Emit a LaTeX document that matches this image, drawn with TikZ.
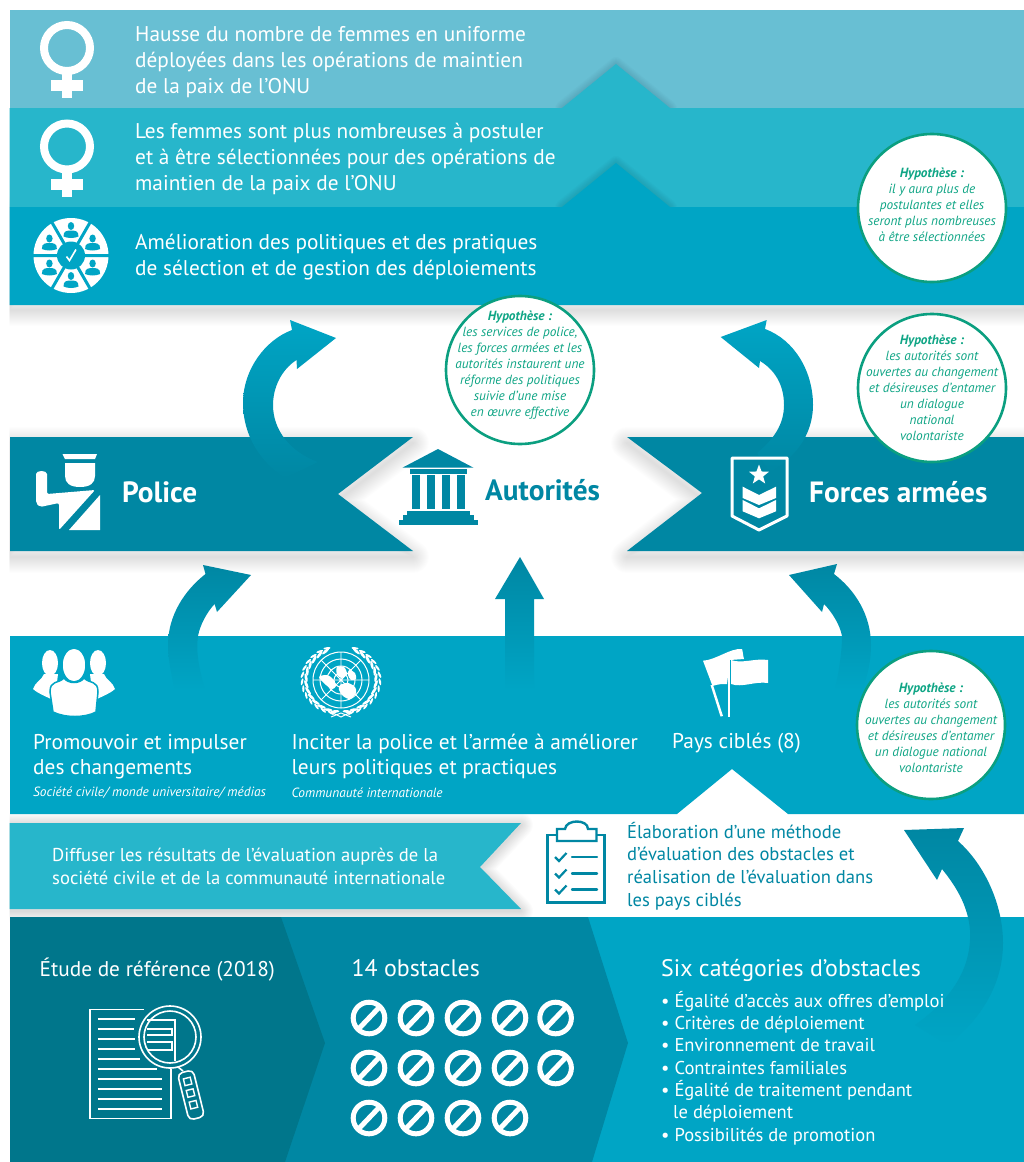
\documentclass[tikz,border=0pt]{standalone}
\usepackage{fontspec}
\setmainfont{PT Sans}
\usetikzlibrary{shapes.geometric,calc}
\definecolor{bandA}{HTML}{68BFD3}
\definecolor{bandB}{HTML}{27B6CB}
\definecolor{bandC}{HTML}{00A5C5}
\definecolor{bandD}{HTML}{0087A3}
\definecolor{bandE}{HTML}{00768B}
\definecolor{hypo}{HTML}{0FA585}
\definecolor{hypoline}{HTML}{0B9F80}
\newcommand\softshadow[4]{%
 \foreach \w in {2,4,...,#2}{\path[draw=black,draw opacity=#3,line width=\w pt,line join=round,shift={(0,#4)}] #1;}}
\newcommand\venus[2]{%
 \begin{scope}[shift={(#1,#2)}]
 \draw[white,line width=8pt] (0,0) circle (23);
 \fill[white] (-5,26) rectangle (5,50);
 \fill[white] (-16,32) rectangle (16,43);
 \end{scope}}
\newcommand\person[2]{% x y
 \begin{scope}[shift={(#1,#2)}]
 \fill[bandC] (0,-4.5) ellipse (3.2 and 4);
 \fill[bandC] (-7.5,6) .. controls (-8,0) and (-3,0) .. (0,0) .. controls (3,0) and (8,0) .. (7.5,6) .. controls (3,8) and (-3,8) .. (-7.5,6) -- cycle;
 \end{scope}}
\newcommand\nosign[2]{%
 \draw[white,line width=5pt] (#1,#2) circle (15.8);
 \draw[white,line width=5pt] ($(#1,#2)+(-10.5,11)$) -- ($(#1,#2)+(10.5,-11)$);}
\tikzset{
 x=1pt,y=-1pt,
 txt/.style={text=white,inner sep=0pt,align=left,anchor=west},
 bubble/.style={circle,draw=hypoline,line width=2.6pt,fill=white,minimum size=148pt,inner sep=0pt},
 bubtxt/.style={text=hypo,inner sep=0pt,align=center,font=\fontsize{13.3}{16}\selectfont\itshape},
 sweep/.style={top color=bandC,bottom color=bandD},
 rise/.style={top color=bandD,middle color=bandD,bottom color=bandC},
}
\begin{document}
\begin{tikzpicture}
\useasboundingbox (0,0) rectangle (1024,1162);
\fill[white] (0,0) rectangle (1024,1162);
% ---------- shadows
\begin{scope}
\clip (9.5,0) rectangle (1024,1162);
\softshadow{(9.5,207) rectangle (1024,305)}{32}{0.008}{5}
\softshadow{(10,437) -- (413,437) -- (338,494) -- (413,551) -- (10,551) -- cycle}{32}{0.008}{6}
\softshadow{(1024,437) -- (627,437) -- (702,493) -- (627,551) -- (1024,551) -- cycle}{32}{0.008}{6}
\softshadow{(9.5,823) -- (521,823) -- (480,867) -- (521,909) -- (9.5,909) -- cycle}{24}{0.012}{2}
\end{scope}
% ---------- top bands
\fill[bandA] (9.5,10) rectangle (1024,108);
\softshadow{(562,108) -- (616,64) -- (670,108) -- cycle}{14}{0.01}{0}
\fill[bandB] (9.5,108) -- (562,108) -- (616,64) -- (670,108) -- (1024,108) -- (1024,207) -- (9.5,207) -- cycle;
\begin{scope}
\clip (9.5,108) rectangle (1024,207);
\softshadow{(562,207) -- (616,163) -- (670,207) -- cycle}{14}{0.01}{0}
\end{scope}
\fill[bandC] (9.5,207) -- (562,207) -- (616,163) -- (670,207) -- (1024,207) -- (1024,305) -- (9.5,305) -- cycle;
% ---------- ribbons
\fill[bandD] (10,437) -- (413,437) -- (338,494) -- (413,551) -- (10,551) -- cycle;
\fill[bandD] (1024,437) -- (627,437) -- (702,493) -- (627,551) -- (1024,551) -- cycle;
% ---------- lower panel
\fill[bandC] (10,636) -- (1024,636) -- (1024,814) -- (788,814) -- (732,769) -- (677,814) -- (10,814) -- cycle;
\fill[bandB] (9.5,823) -- (521,823) -- (480,867) -- (521,909) -- (9.5,909) -- cycle;
% ---------- bottom panel
\fill[bandC] (10,917) rectangle (1024,1162);
\fill[bandD] (10,917) -- (588,917) -- (628,1043) -- (592,1162) -- (10,1162) -- cycle;
\fill[bandE] (10,917) -- (281,917) -- (325,1043) -- (285,1162) -- (10,1162) -- cycle;
% ---------- curved arrows
\shade[sweep] (336,338) -- (297,369) -- (296.5,360) .. controls (281,370) and (273,388) .. (273,405) .. controls (273,430) and (290,452) .. (318,462) -- (285,478) .. controls (260,462) and (243,435) .. (243,403) .. controls (243,370) and (265,340) .. (292,330) -- (290,320) -- cycle;
\shade[sweep] (720.7,337) -- (766.7,320) -- (765,329) .. controls (795,340) and (813,372) .. (813,405) .. controls (813,430) and (800,455) .. (770,472) -- (757,453) .. controls (773,440) and (784,425) .. (784,405) .. controls (784,385) and (775,370) .. (760,361) -- (759,368) -- cycle;
\shade[rise] (251,575) -- (203,565) -- (205.5,574) .. controls (185,590) and (168,615) .. (168,645) .. controls (168,655) and (170,670) .. (175,690) -- (205,690) .. controls (198,665) and (196,650) .. (198,636) .. controls (200,625) and (207,612) .. (214.6,604) -- (217,612) -- cycle;
\shade[rise] (520,557) -- (544,599) -- (534,599) -- (534,690) -- (505,690) -- (505,599) -- (495,599) -- cycle;
\shade[rise] (789,575) -- (837,564) -- (834,574) .. controls (855,590) and (871,615) .. (871,645) .. controls (871,660) and (868,675) .. (862,690) -- (835,690) .. controls (840,665) and (842,650) .. (842,636) .. controls (840,625) and (832,612) .. (824,604) -- (822,612) -- cycle;
\shade[rise] (904,830) -- (964,828) -- (958,841) .. controls (985,865) and (1003,905) .. (1003,943) .. controls (1003,985) and (980,1020) .. (948,1045) -- (915,1025) .. controls (950,1000) and (972,970) .. (970,930) .. controls (968,905) and (955,885) .. (942,869) -- (937,880) -- cycle;
% ---------- venus + wheel icons
\venus{67}{48}
\venus{67}{146.5}
\begin{scope}[shift={(71,255.5)}]
 \fill[white] (0,0) circle (37.5);
 \draw[bandC,line width=3pt] (-38,0) -- (38,0) (-19,-33) -- (19,33) (19,-33) -- (-19,33);
 \fill[bandC] (0,0) circle (14);
 \draw[white,line width=1.6pt] (-4.5,1) -- (-1.5,5) -- (5,-6);
 \person{21.6}{12.5}\person{0}{25}\person{-21.6}{12.5}\person{-21.6}{-12.5}\person{0}{-25}\person{21.6}{-12.5}
\end{scope}
% ---------- top texts
\node[txt,font=\fontsize{21.3}{26}\selectfont] (t1) at (135,62.5) {Hausse du nombre de femmes en uniforme\\déployées dans les opérations de maintien\\de la paix de l’ONU};
\node[txt,font=\fontsize{21.3}{26}\selectfont] (t2) at (135,158.5) {Les femmes sont plus nombreuses à postuler\\et à être sélectionnées pour des opérations de\\maintien de la paix de l’ONU};
\node[txt,font=\fontsize{21.3}{26}\selectfont] (t3) at (135,257.5) {Amélioration des politiques et des pratiques\\de sélection et de gestion des déploiements};
% ---------- police icon
\fill[white] (62.5,454) -- (97,454) -- (95,459) -- (65,459) -- cycle;
\fill[white] (65,463) -- (95,463) -- (95,476) .. controls (95,483) and (90,487) .. (80,487) .. controls (70,487) and (65,483) .. (65,476) -- cycle;
\fill[white,rounded corners=2pt] (36,476) .. controls (36,470) and (47,470) .. (47,476) -- (47,494) -- (95,490) -- (59,530) -- (59,503) -- (40,507) -- (36,503) -- cycle;
\fill[white] (100,495) -- (100,530) -- (69,530) -- cycle;
\node[txt,font=\fontsize{29.3}{32}\selectfont\bfseries] (police) at (122,492) {Police};
% ---------- temple
\fill[bandD] (438,449) -- (473.5,467.7) -- (402.4,467.7) -- cycle;
\fill[bandD] (410,469) rectangle (467,473.7);
\foreach \c in {412,427,442,457}{\fill[bandD] (\c,475) rectangle ++(8,34);}
\fill[bandD] (407,510.7) rectangle (470,515.2);
\fill[bandD] (403,515.2) rectangle (474,520);
\fill[bandD] (398.5,520) rectangle (477.5,524.5);
\node[txt,text=bandD,font=\fontsize{29.3}{32}\selectfont\bfseries] (autorites) at (485,490) {Autorités};
% ---------- shield
\draw[white,line width=3pt,line join=round] (732,458) -- (787,458) -- (787,516) -- (759,530) -- (732,516) -- cycle;
\node[star,star points=5,star point ratio=2.4,fill=white,minimum size=21pt,inner sep=0pt] (st) at (759,475) {};
\fill[white] (742.7,486.7) -- (759,495) -- (776,486.7) -- (776,498) -- (759,505) -- (742.7,498) -- cycle;
\fill[white] (742.7,500) -- (759,508.3) -- (776,500) -- (776,511.3) -- (759,518.3) -- (742.7,511.3) -- cycle;
\node[txt,font=\fontsize{29.3}{32}\selectfont\bfseries] (forces) at (809,492) {Forces armées};
% ---------- people icon
\fill[white] (50,663) ellipse (8 and 13);
\fill[white] (44,674) .. controls (42,680) and (35,682) .. (33,689) .. controls (39,694) and (45,696) .. (51,699) -- (56,690) -- (58,674) -- cycle;
\fill[white] (98,663) ellipse (8 and 13);
\fill[white] (104,674) .. controls (106,680) and (113,682) .. (115,689) .. controls (109,694) and (103,696) .. (97,699) -- (92,690) -- (90,674) -- cycle;
\fill[white,draw=bandC,line width=1.5pt] (74,665) ellipse (12 and 17);
\fill[white,draw=bandC,line width=1.5pt] (64,678) .. controls (58,684) and (50,680) .. (50,692) -- (53,712) .. controls (65,718) and (85,718) .. (96,712) -- (98,692) .. controls (98,680) and (90,684) .. (84,678) .. controls (80,684) and (68,684) .. (64,678) -- cycle;
% ---------- UN emblem
\begin{scope}[shift={(341,680)}]
 \draw[white,line width=1pt] (0,0) circle (28) (0,0) circle (21) (0,0) circle (14) (0,0) circle (7);
 \draw[white,line width=.8pt] (-28,0) -- (28,0) (0,-28) -- (0,28) (-20,-20) -- (20,20) (20,-20) -- (-20,20);
 \fill[white] plot[smooth cycle] coordinates {(-22,-3) (-14,-5) (-8,-1) (-5,6) (-9,9) (-15,5)};
 \fill[white] plot[smooth cycle] coordinates {(-1,5) (7,3) (14,7) (15,13) (9,19) (2,16) (-2,10)};
 \fill[white] plot[smooth cycle] coordinates {(-4,-13) (3,-13) (6,-6) (1,-2) (-4,-5)};
 \fill[white] plot[smooth cycle] coordinates {(8,-10) (14,-7) (15,-1) (10,0) (7,-5)};
 \foreach \a in {100,112,...,245}{
  \pgfmathsetmacro\px{35*cos(\a)}\pgfmathsetmacro\py{32*sin(\a)}
  \pgfmathsetmacro\qx{39*cos(\a+5)}\pgfmathsetmacro\qy{34*sin(\a+5)}
  \pgfmathsetmacro\ra{-\a+15}\pgfmathsetmacro\rb{-\a-20}
  \pgfmathsetmacro\rc{\a-15}\pgfmathsetmacro\rd{\a+20}
  \pgfmathsetmacro\mx{-\px}\pgfmathsetmacro\nx{-\qx}
  \fill[white,shift={(\px,\py)},rotate=\ra] (0,0) ellipse (1.4 and 4.6);
  \fill[white,shift={(\mx,\py)},rotate=\rc] (0,0) ellipse (1.4 and 4.6);
  \fill[white,shift={(\qx,\qy)},rotate=\rb] (0,0) ellipse (1.1 and 3.6);
  \fill[white,shift={(\nx,\qy)},rotate=\rd] (0,0) ellipse (1.1 and 3.6);
 }
 \draw[white,line width=1pt] (-10,32) -- (0,37) -- (10,32) (-10,37) -- (0,33) -- (10,37);
\end{scope}
% ---------- flags
\fill[white] (703,660.7) .. controls (716,660) and (730,648) .. (742,649) .. controls (743,652) and (743,656) .. (744,659) -- (730,660) -- (727,684) .. controls (722,684) and (718,684) .. (712.5,686) -- cycle;
\fill[white] (710.5,685) -- (713,685) -- (723,716) -- (720.5,716.5) -- cycle;
\fill[white] (731,660) .. controls (742,664) and (755,658) .. (768,660) -- (768,683) .. controls (755,681) and (742,688) .. (731,684) -- cycle;
\fill[white] (727.5,660) -- (730,660) -- (730,717) -- (727.5,717) -- cycle;
% ---------- lower texts
\node[txt,font=\fontsize{21.35}{25}\selectfont] (t4) at (33,756.5) {Promouvoir et impulser\\des changements};
\node[txt,font=\fontsize{13.35}{14}\selectfont\itshape] (t5) at (33,793) {Société civile/ monde universitaire/ médias};
\node[txt,font=\fontsize{21.35}{25}\selectfont] (t6) at (291.5,756.5) {Inciter la police et l’armée à améliorer\\leurs politiques et practiques};
\node[txt,font=\fontsize{13.35}{14}\selectfont\itshape] (t7) at (291.5,793) {Communauté internationale};
\node[txt,font=\fontsize{21.35}{25}\selectfont] (t8) at (672,743.5) {Pays ciblés (8)};
\node[txt,font=\fontsize{18.6}{23}\selectfont] (t9) at (52,866) {Diffuser les résultats de l’évaluation auprès de la\\société civile et de la communauté internationale};
% ---------- clipboard
\begin{scope}[bandD,line width=2.4pt]
 \draw (556,835) -- (547.5,835) -- (547.5,902.5) -- (604.5,902.5) -- (604.5,835) -- (596,835);
 \draw (557,829) -- (565,829) .. controls (566,819) and (588,819) .. (588,829) -- (596.5,829) -- (596.5,841) -- (557,841) -- cycle;
 \foreach \y in {857,873.5,889.5}{
  \draw[line width=2.2pt] (555,\y) -- ++(4,4) -- ++(7.5,-8);
  \draw[line cap=round] (572,\y) -- (597,\y);
 }
\end{scope}
\node[txt,text=bandD,font=\fontsize{18.6}{22.7}\selectfont] (t10) at (627,866) {Élaboration d’une méthode\\d’évaluation des obstacles et\\réalisation de l’évaluation dans\\les pays ciblés};
% ---------- bottom
\node[txt,font=\fontsize{21.3}{24}\selectfont] (t11) at (39.5,970) {Étude de référence (2018)};
\node[txt,font=\fontsize{23.9}{26}\selectfont] (t12) at (351.5,968.5) {14 obstacles};
\node[txt,font=\fontsize{23.9}{26}\selectfont] (t13) at (661,970) {Six catégories d’obstacles};
\node[txt,font=\fontsize{18.55}{22.3}\selectfont] (t14) at (661,1068) {• Égalité d’accès aux offres d’emploi\\• Critères de déploiement\\• Environnement de travail\\• Contraintes familiales\\• Égalité de traitement pendant\\\hspace*{12pt}le déploiement\\• Possibilités de promotion};
% ---------- document + magnifier
\begin{scope}[white]
 \draw[line width=1.6pt] (144,1009.5) -- (90,1009.5) -- (90,1118.5) -- (171,1118.5) -- (171,1069);
 \foreach \y/\e in {1019/135,1029/134,1039/135,1049/135,1059/140,1069/157,1079/162,1089/162,1099/162,1109/162}{\draw[line width=2.6pt] (98,\y) -- (\e,\y);}
 \fill[bandE] (170,1037) circle (29);
 \draw[line width=1.6pt] (170,1037) circle (31);
 \draw[line width=1.6pt] (170,1037) circle (26);
 \draw[line width=1.4pt] (147,1020) -- (175,1020) -- (175,1061);
 \draw[line width=1.4pt] (147,1029) -- (172,1029) -- (172,1035) -- (147,1035) (147,1042) -- (172,1042) -- (172,1050) -- (147,1050);
 \draw[line width=1.6pt] (178,1067) -- (183,1071);
 \begin{scope}[shift={(191,1095)},rotate=14]
  \draw[line width=1.6pt,rounded corners=5pt] (-8,-24) rectangle (8,24);
  \foreach \y in {-14,-2,10}{\draw[line width=1.4pt] (-3.5,\y-3.5) rectangle ++(7,7);}
 \end{scope}
\end{scope}
% ---------- no-signs
\foreach \cx in {369,416,463,510,555.6}{\nosign{\cx}{1018}\nosign{\cx}{1068}}
\foreach \cx in {369,416,463,510}{\nosign{\cx}{1118}}
% ---------- hypothesis bubbles
\node[bubble] (b1) at (932,208) {};
\node[bubtxt] (bt1) at (932,204.5) {{\bfseries Hypothèse :}\\il y aura plus de\\postulantes et elles\\seront plus nombreuses\\à être sélectionnées};
\node[bubble] (b2) at (932,388) {};
\node[bubtxt] (bt2) at (932,388) {{\bfseries Hypothèse :}\\les autorités sont\\ouvertes au changement\\et désireuses d’entamer\\un dialogue\\national\\volontariste};
\node[bubble] (b3) at (931,725) {};
\node[bubtxt] (bt3) at (931,727.5) {{\bfseries Hypothèse :}\\les autorités sont\\ouvertes au changement\\et désireuses d’entamer\\un dialogue national\\volontariste};
\node[bubble] (b4) at (520,370) {};
\node[bubtxt] (bt4) at (520,365) {{\bfseries Hypothèse :}\\les services de police,\\les forces armées et les\\autorités instaurent une\\réforme des politiques\\suivie d’une mise\\en œuvre effective};
\end{tikzpicture}
\end{document}
